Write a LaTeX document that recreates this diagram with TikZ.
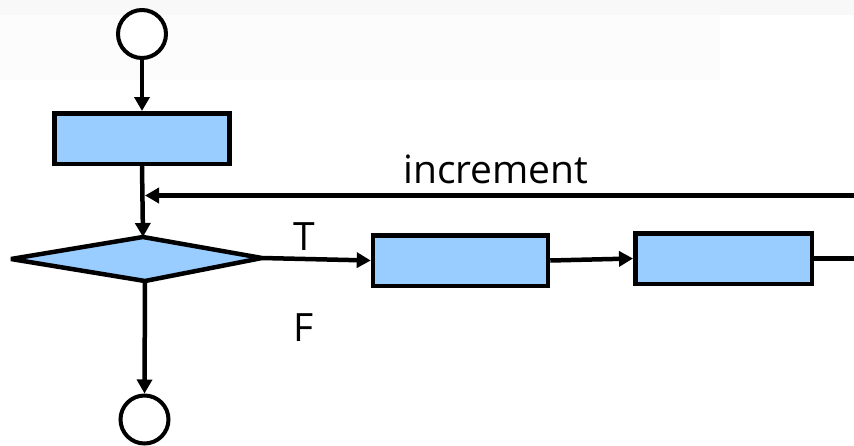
\documentclass[tikz,border=0pt]{standalone}
\usepackage{fontspec}
\setmainfont{Open Sans}
\usetikzlibrary{arrows.meta}
\definecolor{boxblue}{HTML}{99CCFF}
\definecolor{bgband}{HTML}{F8F8F8}
\definecolor{bgfaint}{HTML}{FCFCFC}
\tikzset{
  conn/.style={line width=4.5pt, draw=black},
  arr/.style={conn, -{Triangle[length=14pt,width=15pt]}},
  termcircle/.style={circle, draw=black, line width=4pt, minimum size=48pt, inner sep=0pt, fill=white},
  procbox/.style={rectangle, draw=black, line width=4.5pt, fill=boxblue, minimum width=175pt, minimum height=50.5pt, inner sep=0pt},
  decision/.style={draw=black, line width=4.5pt, fill=boxblue, line join=bevel},
  lbl/.style={font=\fontsize{39}{47}\selectfont, inner sep=0pt, text=black}
}
\begin{document}
\begin{tikzpicture}[x=1pt,y=-1pt]
\useasboundingbox (0,0) rectangle (854,445);
\fill[white] (0,0) rectangle (854,445);
\fill[bgfaint] (0,15) rectangle (720,80);
\fill[bgband] (0,0) rectangle (854,15);

% nodes
\node[termcircle] (start) at (142,34) {};
\node[procbox] (init) at (142,138.5) {};
\coordinate (dl) at (11,259);
\coordinate (dt) at (143,237);
\coordinate (dr) at (262,258);
\coordinate (db) at (145,281);
\draw[decision] (dl) -- (dt) -- (dr) -- (db) -- cycle;
\node[procbox] (body) at (460.5,260.5) {};
\node[procbox, minimum width=176.5pt] (upd) at (723.5,258.5) {};
\node[termcircle] (stop) at (144.5,419.5) {};

\coordinate (rightend) at (858,258.5);
\coordinate (incstart) at (858,195.5);
\coordinate (incend) at (145,195.5);

% connectors
\draw[arr] (start.south) -- (init.north);
\draw[arr] (init.south) -- (dt);
\draw[arr] (incstart) -- (incend);
\draw[arr] (dr) -- (body.west);
\draw[arr] (body.east) -- (upd.west);
\draw[conn] (upd.east) -- (rightend);
\draw[arr] (db) -- (stop.north);

% labels
\node[lbl, anchor=base west] (inclbl) at (403,183) {increment};
\node[lbl, anchor=base] (tlbl) at (304.5,250) {T};
\node[lbl, anchor=base] (flbl) at (304,341) {F};
\end{tikzpicture}
\end{document}
